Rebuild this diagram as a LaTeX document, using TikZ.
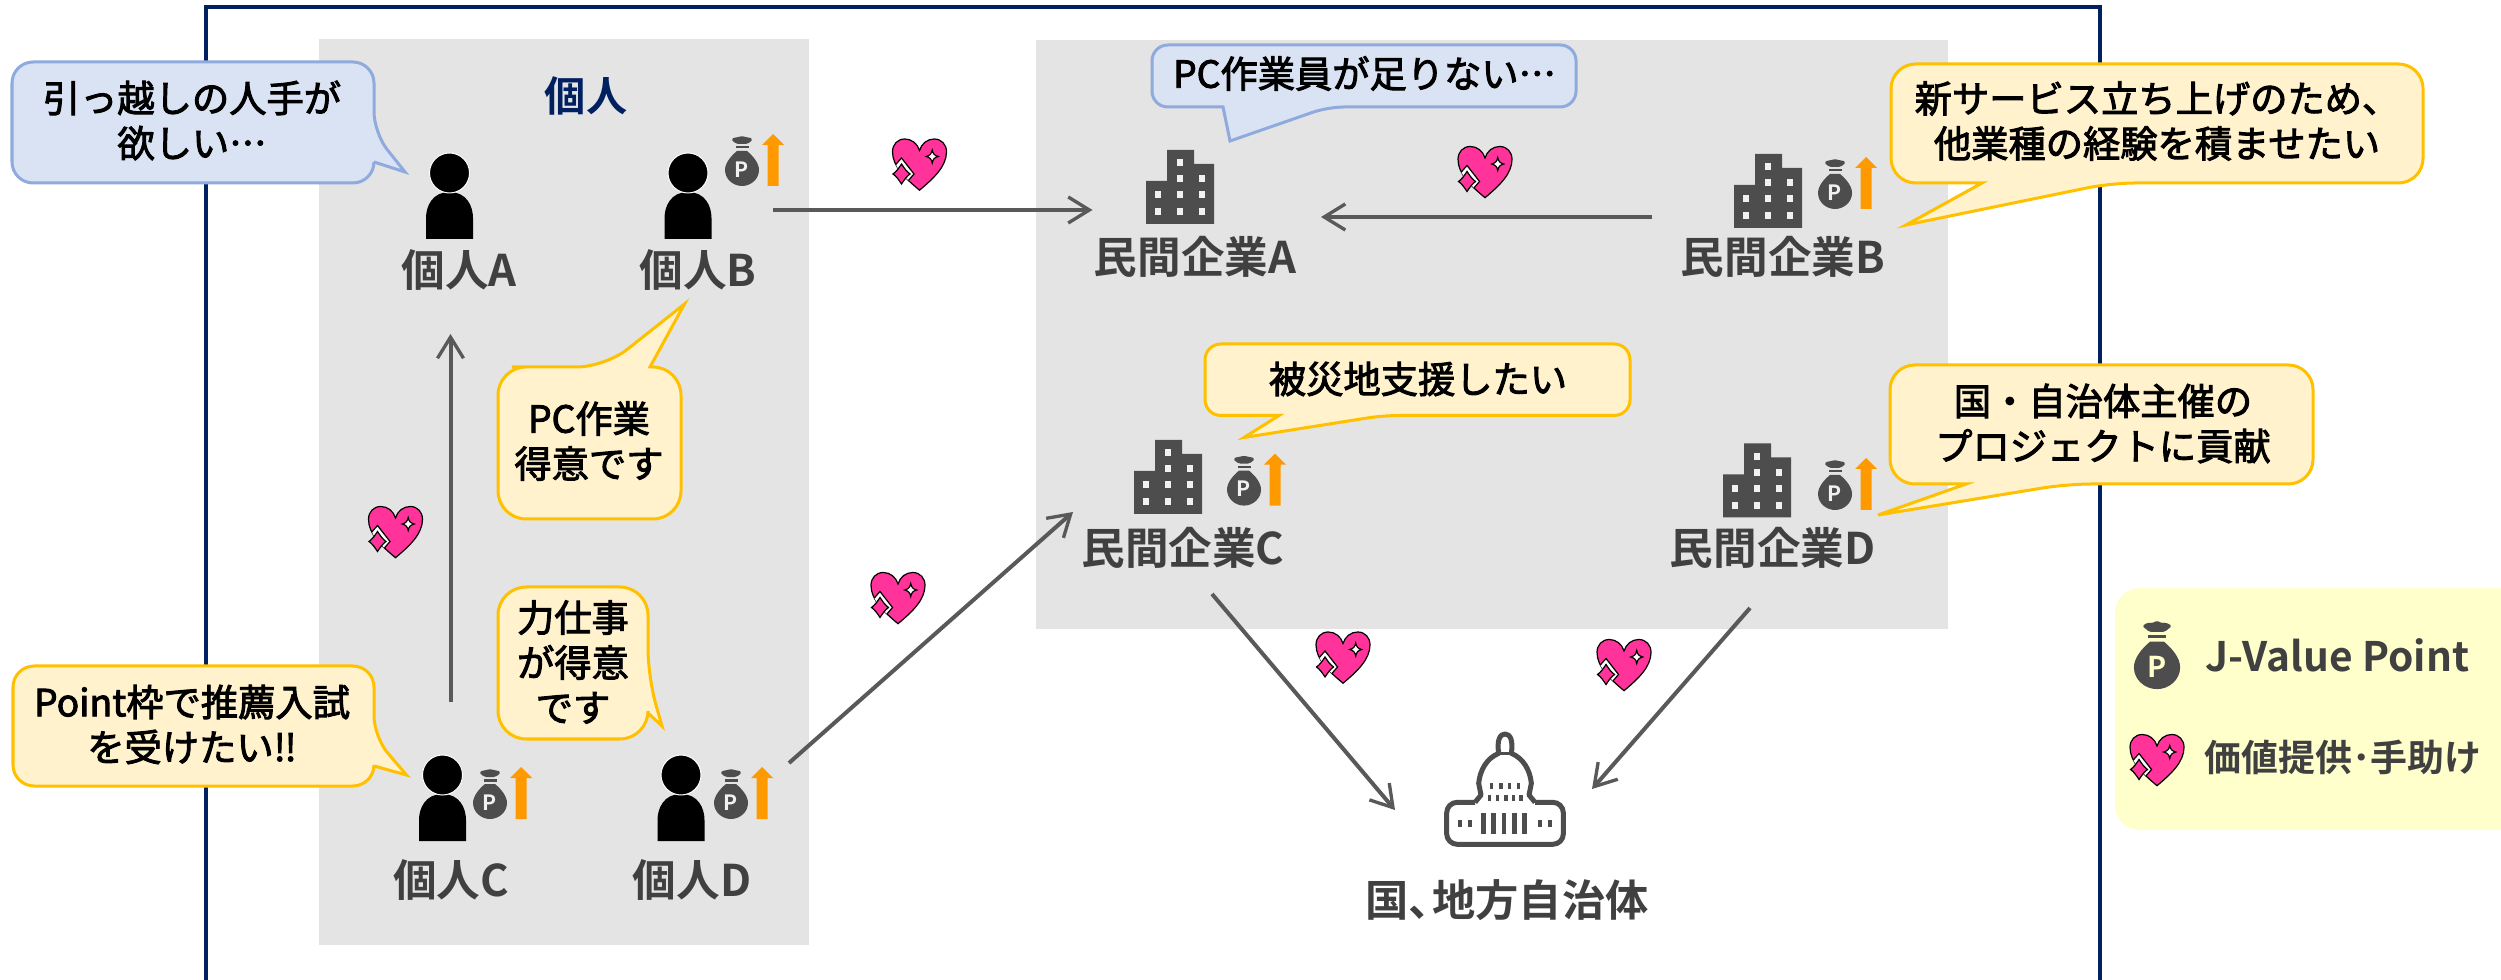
\documentclass[tikz,border=0pt]{standalone}
\usepackage{fontspec}
\setmainfont{Noto Sans CJK JP}
\newfontfamily\jpm[FakeBold=2.5,Script=CJK,Language=Japanese]{Noto Sans CJK JP}
\newfontfamily\jpb{Noto Sans CJK JP Bold}[BoldFont={Noto Sans CJK JP Bold}]
\usetikzlibrary{arrows.meta}
\definecolor{navy}{HTML}{002060}
\definecolor{panel}{HTML}{E4E4E4}
\definecolor{ink}{HTML}{404040}
\definecolor{icon}{HTML}{4D4D4D}
\definecolor{flow}{HTML}{595959}
\definecolor{bluefill}{HTML}{DAE3F3}
\definecolor{blueline}{HTML}{8FAADC}
\definecolor{yelfill}{HTML}{FFF2CC}
\definecolor{yelline}{HTML}{FFC000}
\definecolor{legendfill}{HTML}{FFFFCC}
\definecolor{orangeup}{HTML}{FF9900}
\definecolor{pinkheart}{HTML}{FF3399}
\def\heartpath{(0,25.7) .. controls (14,14) and (27,2) .. (27,-12.7) .. controls (27,-20) and (22,-25.5) .. (14.7,-25.5) .. controls (8,-25.5) and (2,-21) .. (0,-14) .. controls (-2,-21) and (-8,-25.5) .. (-14.7,-25.5) .. controls (-22,-25.5) and (-27,-20) .. (-27,-12.7) .. controls (-27,2) and (-14,14) .. (0,25.7) -- cycle}
\tikzset{
  px/.style={line width=#1*0.2845pt},
  panelbox/.style={fill=panel,draw=none},
  callblue/.style={fill=bluefill,draw=blueline,px=3,line join=miter},
  callyel/.style={fill=yelfill,draw=yelline,px=3,line join=miter},
  flowline/.style={draw=flow,px=4,-{Straight Barb[length=6pt,width=7.4pt,line width=0.95pt]}},
  saytext/.style={inner sep=0pt,align=center,text=black,font=\jpm\fontsize{10.6}{12.8}\selectfont},
  nametext/.style={inner sep=0pt,align=center,text=ink,font=\jpb\fontsize{12.4}{14}\selectfont},
  legendtext/.style={inner sep=0pt,anchor=west,text=ink,font=\jpb\fontsize{10.5}{12}\selectfont},
  pics/person/.style={code={
    \fill[black] (-23.5,66) -- (-23.5,45) .. controls (-23.5,33) and (-17,19) .. (0,19) .. controls (17,19) and (23.5,33) .. (23.5,45) -- (23.5,66) -- cycle;
    \draw[fill=black,draw=white,px=1] (0,0) circle[radius=20];
  }},
  pics/moneybag/.style={code={
    \fill[icon] (-5,-18) .. controls (-11,-13) and (-17,-6) .. (-17,1) .. controls (-17,10) and (-9,17) .. (0,17) .. controls (9,17) and (17,10) .. (17,1) .. controls (17,-6) and (11,-13) .. (5,-18) -- cycle;
    \fill[icon] (-6.5,-23) rectangle (6.5,-20.5);
    \fill[icon,rounded corners=0.5pt] (-5.5,-25) -- (-11,-29.5) -- (-6.5,-32) -- (-3,-31.5) -- (0,-33.5) -- (3,-31.5) -- (6.5,-32) -- (11,-29.5) -- (5.5,-25) -- cycle;
    \node (-p) [transform shape,inner sep=0pt,text=#1,font=\jpb\fontsize{6}{6}\selectfont] at (0,0.5) {P};
  }},
  pics/uparrow/.style={code={
    \fill[orangeup] (25.5,17) -- (25.5,-24) -- (20,-24) -- (31,-35) -- (42,-24) -- (36.5,-24) -- (36.5,17) -- cycle;
  }},
  pics/building/.style={code={
    \fill[icon] (0,0) -- (0,-43) -- (21,-43) -- (21,-74) -- (48,-74) -- (48,-60) -- (68,-60) -- (68,0) -- cycle;
    \foreach \wx/\wy in {34/-61,34/-45,56/-45,12/-29,34/-29,56/-29,12/-12,34/-12,56/-12}
      \fill[panel!50!white] (\wx-3,\wy-3.5) rectangle (\wx+3,\wy+3.5);
  }},
  pics/heartmark/.style={code={
    \draw[fill=pinkheart,draw=black,px=1.2] \heartpath;
    \begin{scope}
      \clip \heartpath;
      \draw[fill=white,draw=black,px=1.2] (-18,-6.5) -- (-5.5,9.5) -- (-18,24) -- (-32,9.5) -- cycle;
    \end{scope}
    \draw[fill=pinkheart,draw=black,px=1.2] (-18,-0.5) .. controls (-15,4) and (-13,7) .. (-9.5,9.5) .. controls (-13,12) and (-15,15) .. (-18,19.5) .. controls (-21,15) and (-23,12) .. (-26.5,9.5) .. controls (-23,7) and (-21,4) .. (-18,-0.5) -- cycle;
    \draw[fill=white,draw=black,px=1.2] (12.7,-14.5) .. controls (13.5,-10.5) and (15,-9) .. (18.7,-8) .. controls (15,-7) and (13.5,-5.5) .. (12.7,-1.5) .. controls (11.9,-5.5) and (10.4,-7) .. (6.7,-8) .. controls (10.4,-9) and (11.9,-10.5) .. (12.7,-14.5) -- cycle;
  }},
}
\begin{document}
\begin{tikzpicture}[x=0.01cm,y=-0.01cm]
\useasboundingbox (0,0) rectangle (2501,980);
% frame and panels
\draw[navy,px=4] (206,1000) -- (206,7) -- (2100,7) -- (2100,1000);
\fill[panelbox] (319,39) rectangle (809,945);
\fill[panelbox] (1036,40) rectangle (1948,629);
\fill[legendfill,rounded corners=7pt] (2115,588) rectangle (2530,830);
% connector ends
\coordinate (pB-out) at (773,210);   \coordinate (cA-in) at (1092.5,210);
\coordinate (cB-out) at (1652,217);  \coordinate (cA-in2) at (1321,217);
\coordinate (pC-out) at (450.5,702); \coordinate (pA-in) at (450.5,334);
\coordinate (pD-out) at (789,763);   \coordinate (cC-in) at (1073,512);
\coordinate (cC-out) at (1212,594);  \coordinate (gov-in) at (1395,810);
\coordinate (cD-out) at (1750,608);  \coordinate (gov-in2) at (1592,789);
\draw[flowline] (pB-out) -- (cA-in);
\draw[flowline] (cB-out) -- (cA-in2);
\draw[flowline] (pC-out) -- (pA-in);
\draw[flowline] (pD-out) -- (cC-in);
\draw[flowline] (cC-out) -- (gov-in);
\draw[flowline] (cD-out) -- (gov-in2);
% people
\pic at (449.5,173) {person};
\pic at (688,173) {person};
\pic at (442.5,775) {person};
\pic at (681,775) {person};
\pic (bagB) at (742,169) {moneybag=panel!50!white}; \pic at (742,169) {uparrow};
\pic (bagC) at (490,802) {moneybag=panel!50!white}; \pic at (490,802) {uparrow};
\pic (bagD) at (731,802) {moneybag=panel!50!white}; \pic at (731,802) {uparrow};
% companies
\pic at (1146,224) {building};
\pic at (1734,228) {building};
\pic at (1134,514) {building};
\pic at (1723,517.5) {building};
\pic (bagcB) at (1835,192) {moneybag=panel!50!white}; \pic at (1835,192) {uparrow};
\pic (bagcC) at (1244,488.6) {moneybag=panel!50!white}; \pic at (1244,488.6) {uparrow};
\pic (bagcD) at (1835,493) {moneybag=panel!50!white}; \pic at (1835,493) {uparrow};
% government building
\begin{scope}[shift={(1420,720)},scale=1/3]
  \draw[icon,px=5,line join=round,rounded corners=3pt] (165,247) -- (80,247) -- (80,373) -- (430,373) -- (430,247) -- (345,247);
  \draw[icon,px=5,line join=round] (165,247) -- (183,225) -- (176,190) .. controls (180,150) and (200,115) .. (236,100) .. controls (230,60) and (240,42) .. (255,42) .. controls (270,42) and (280,60) .. (274,100) .. controls (310,115) and (330,150) .. (334,190) -- (327,225) -- (345,247);
  \draw[icon,px=3] (232,100) -- (278,100);
  \foreach \wx in {215,243,268,296} \fill[icon] (\wx-5,190) rectangle (\wx+5,206);
  \foreach \wx in {208,232,258,280,303} \fill[icon] (\wx-5,225) rectangle (\wx+5,242);
  \foreach \wx in {190,221,252,283,313} \fill[icon] (\wx-7,280) rectangle (\wx+7,342);
  \foreach \wx in {120,150,360,390} \fill[icon] (\wx-7,300) rectangle (\wx+7,322);
\end{scope}
% hearts
\pic at (919.5,164.5) {heartmark};
\pic at (1485,172) {heartmark};
\pic at (395.5,532) {heartmark};
\pic at (898,598) {heartmark};
\pic at (1343,657.5) {heartmark};
\pic at (1624,665) {heartmark};
\pic at (2157,760) {heartmark};
\pic (bagL) [scale=1.36] at (2157,666) {moneybag=legendfill};
% callouts
\path[callblue] (190,62) [rounded corners=6pt] -- (374,62) -- (374,133) [sharp corners] -- (405,172) -- (374,162) [rounded corners=6pt] -- (374,183) -- (12,183) -- (12,62) -- cycle;
\path[callblue] (1360,45) [rounded corners=4.5pt] -- (1576,45) -- (1576,107) -- (1328,107) [sharp corners] -- (1230,141) -- (1223,107) [rounded corners=4.5pt] -- (1152,107) -- (1152,45) -- cycle;
\path[callyel] (1418,344) [rounded corners=4.5pt] -- (1630,344) -- (1630,415.5) -- (1383,415.5) [sharp corners] -- (1244,437.5) -- (1279,415.5) [rounded corners=4.5pt] -- (1205,415.5) -- (1205,344) -- cycle;
\path[callyel] (2150,64) [rounded corners=7pt] -- (2423,64) -- (2423,183) -- (2111,183) [sharp corners] -- (1906,225) -- (1982,183) [rounded corners=7pt] -- (1891,183) -- (1891,64) -- cycle;
\path[callyel] (2100,365) [rounded corners=7pt] -- (2313,365) -- (2313,484) -- (2067,484) [sharp corners] -- (1878,515) -- (1966,484) [rounded corners=7pt] -- (1890,484) -- (1890,365) -- cycle;
\path[callyel] (540,367) [rounded corners=8pt] -- (605,367) [sharp corners] -- (684.5,304) -- (650,367) [rounded corners=8pt] -- (681,367) -- (681,519) -- (498,519) -- (498,367) -- cycle;
\path[callyel] (573,587) [rounded corners=8pt] -- (648,587) -- (648,677) [sharp corners] -- (662,726) -- (648,713) [rounded corners=8pt] -- (648,739) -- (498,739) -- (498,587) -- cycle;
\path[callyel] (190,666) [rounded corners=6pt] -- (374,666) -- (374,737) [sharp corners] -- (406.5,775) -- (374,766) [rounded corners=6pt] -- (374,786) -- (13,786) -- (13,666) -- cycle;
% texts
\node (tHead) [inner sep=0pt,text=navy,font=\jpb\fontsize{11.7}{14}\selectfont] at (586,96) {個人};
\node (nA) [nametext] at (459,270) {個人A};
\node (nB) [nametext] at (698,270) {個人B};
\node (nC) [nametext] at (451,880) {個人C};
\node (nD) [nametext] at (692,880) {個人D};
\node (ncA) [nametext] at (1195,257) {民間企業A};
\node (ncB) [nametext] at (1783,257) {民間企業B};
\node (ncC) [nametext] at (1183,548) {民間企業C};
\node (ncD) [nametext] at (1772.6,548) {民間企業D};
\node (nGov) [nametext,font=\jpb\fontsize{12.3}{14}\selectfont] at (1507,900) {国、\hspace{-0.45em}地方自治体};
\node (s1) [saytext] at (192,120.5) {引っ越しの人手が\\欲しい…};
\node (s2) [saytext] at (1364.5,73.5) {PC作業員が足りない…};
\node (s3) [saytext] at (1418,379) {被災地支援したい};
\node (s4) [saytext] at (2157,121) {新サービス立ち上げのため、\\他業種の経験を積ませたい};
\node (s5) [saytext] at (2103,423.5) {国・自治体主催の\\プロジェクトに貢献};
\node (s6) [saytext] at (589,441) {PC作業\\得意です};
\node (s7) [saytext] at (573,662) {力仕事\\が得意\\です};
\node (s8) [saytext] at (192,724.5) {Point枠で推薦入試\\を受けたい‼};
\node (lg1) [legendtext,font=\jpb\fontsize{11.55}{12}\selectfont] at (2205,655) {J-Value Point};
\node (lg2) [legendtext] at (2204,757) {価値提供･手助け};
\end{tikzpicture}
\end{document}
